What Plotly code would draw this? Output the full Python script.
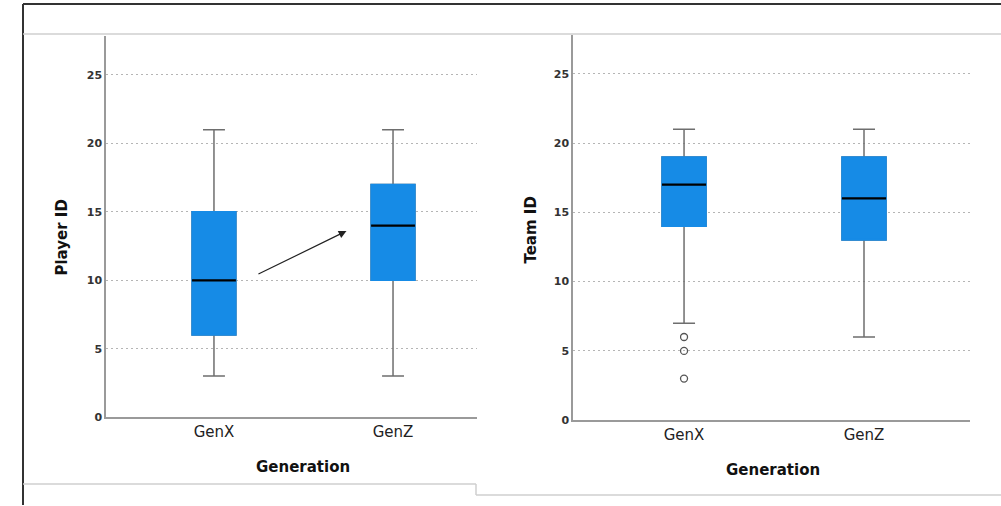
import plotly.graph_objects as go

W, H = 1001, 506
H_RENDER = 512  # layout height; the page is photographed slightly compressed vertically

categories = ["GenX", "GenZ"]
xpos = [0, 1]

# Player ID by generation
player_low = [3, 3]
player_q1 = [6, 10]
player_med = [10, 14]
player_q3 = [15, 17]
player_high = [21, 21]

# Team ID by generation
team_low = [7, 6]
team_q1 = [14, 13]
team_med = [17, 16]
team_q3 = [19, 19]
team_high = [21, 21]
team_outliers_x = [0, 0, 0]
team_outliers_y = [6, 5, 3]

# arrow annotation on left chart (data coords)
arrow_from = (0.24, 10.4)
arrow_to = (0.74, 13.6)

BLUE = "#168be6"
GRAY = "#6e6e6e"
BOXW = 0.245


def px_x(p):
    return p / W


def px_y(p):
    return (H - p) / H


fig = go.Figure()


def add_boxes(xa, ya, low, q1, med, q3, high):
    # whiskers (gray)
    fig.add_trace(go.Box(x=xpos, q1=q1, median=med, q3=q3, lowerfence=low, upperfence=high,
                         width=BOXW, whiskerwidth=0.5, fillcolor=BLUE,
                         line=dict(color=GRAY, width=1.5), boxpoints=False,
                         xaxis=xa, yaxis=ya, showlegend=False, hoverinfo="skip"))
    # box body (blue)
    fig.add_trace(go.Box(x=xpos, q1=q1, median=q1, q3=q3, lowerfence=q1, upperfence=q3,
                         width=BOXW, whiskerwidth=0, fillcolor=BLUE,
                         line=dict(color=BLUE, width=1.5), boxpoints=False,
                         xaxis=xa, yaxis=ya, showlegend=False, hoverinfo="skip"))
    # median (black)
    fig.add_trace(go.Box(x=xpos, q1=med, median=med, q3=med, lowerfence=med, upperfence=med,
                         width=BOXW, whiskerwidth=0, fillcolor="black",
                         line=dict(color="black", width=2.2), boxpoints=False,
                         xaxis=xa, yaxis=ya, showlegend=False, hoverinfo="skip"))


add_boxes("x", "y", player_low, player_q1, player_med, player_q3, player_high)
add_boxes("x2", "y2", team_low, team_q1, team_med, team_q3, team_high)

fig.add_trace(go.Scatter(x=team_outliers_x, y=team_outliers_y, mode="markers",
                         marker=dict(symbol="circle-open", size=7, color="#555",
                                     line=dict(width=1.3)),
                         xaxis="x2", yaxis="y2", showlegend=False, hoverinfo="skip"))

grid = dict(showgrid=True, gridcolor="#b5b5b5", griddash="2px,3px", gridwidth=1.4,
            tickvals=[0, 5, 10, 15, 20, 25], ticks="", zeroline=False,
            showline=True, linecolor="#9a9a9a", linewidth=1.5,
            tickfont=dict(family="DejaVu Sans", size=11, color="#333", weight="bold"))
xcommon = dict(tickvals=xpos, ticktext=categories, showgrid=False, zeroline=False,
               showline=True, linecolor="#9a9a9a", linewidth=1.5, ticks="",
               tickfont=dict(family="DejaVu Sans", size=15, color="#222"))

fig.update_layout(
    width=W, height=H_RENDER, margin=dict(l=0, r=0, t=0, b=0),
    paper_bgcolor="white", plot_bgcolor="white", boxmode="overlay",
    xaxis=dict(domain=[px_x(106), px_x(477)], range=[-0.603, 1.469], anchor="y", **xcommon),
    yaxis=dict(domain=[px_y(418), px_y(36)], range=[0, 27.85], anchor="x", **grid),
    xaxis2=dict(domain=[px_x(573), px_x(970)], range=[-0.617, 1.589], anchor="y2", **xcommon),
    yaxis2=dict(domain=[px_y(421), px_y(35)], range=[0, 27.8], anchor="x2", **grid),
)

title_font = dict(family="DejaVu Sans", size=15, color="#111")
annos = [
    dict(text="<b>Player ID</b>", x=px_x(62), y=px_y(238), textangle=-90),
    dict(text="<b>Team ID</b>", x=px_x(531), y=px_y(231), textangle=-90),
    dict(text="<b>Generation</b>", x=px_x(303), y=px_y(468)),
    dict(text="<b>Generation</b>", x=px_x(773), y=px_y(471)),
]
for a in annos:
    fig.add_annotation(xref="paper", yref="paper", showarrow=False,
                       xanchor="center", yanchor="middle", font=title_font, **a)

fig.add_annotation(x=arrow_to[0], y=arrow_to[1], ax=arrow_from[0], ay=arrow_from[1],
                   xref="x", yref="y", axref="x", ayref="y", text="", showarrow=True,
                   arrowhead=2, arrowsize=1.3, arrowwidth=1.2, arrowcolor="#222")

# frame lines of the output viewer
frame = [
    (23, 4, W, 4, "#333", 2),
    (23, 4, 23, H, "#333", 2),
    (23, 34, W, 34, "#cfcfcf", 1.5),
    (23, 485, 476, 485, "#cfcfcf", 1.5),
    (476, 485, 476, 496, "#cfcfcf", 1.5),
    (476, 496, W, 496, "#cfcfcf", 1.5),
]
for x0, y0, x1, y1, c, w in frame:
    fig.add_shape(type="line", xref="paper", yref="paper",
                  x0=px_x(x0), y0=px_y(y0), x1=px_x(x1), y1=px_y(y1),
                  line=dict(color=c, width=w))

post = ("var s=document.documentElement.style,b=document.body.style;"
        "s.margin='0';s.padding='0';s.overflow='hidden';"
        "b.margin='0';b.padding='0';b.overflow='hidden';")
fig.write_html("out.html", config={"displayModeBar": False}, post_script=post)
